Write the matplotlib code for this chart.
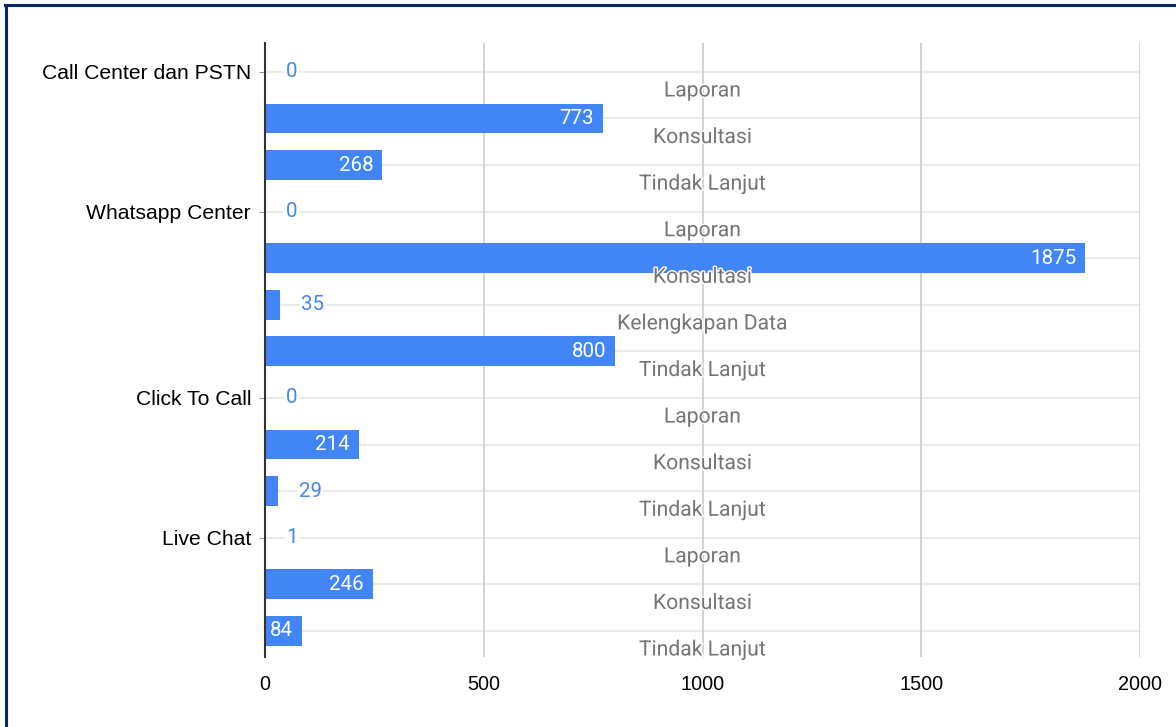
import matplotlib.pyplot as plt
import matplotlib.patheffects as pe
from matplotlib.lines import Line2D

# data
kanal = ["Call Center dan PSTN", "Whatsapp Center", "Click To Call", "Live Chat"]
jumlah_per_kanal = [3, 4, 3, 3]
jenis = ["Laporan", "Konsultasi", "Tindak Lanjut",
         "Laporan", "Konsultasi", "Kelengkapan Data", "Tindak Lanjut",
         "Laporan", "Konsultasi", "Tindak Lanjut",
         "Laporan", "Konsultasi", "Tindak Lanjut"]
nilai = [0, 773, 268, 0, 1875, 35, 800, 0, 214, 29, 1, 246, 84]
xticks = [0, 500, 1000, 1500, 2000]

biru = "#4285f4"

fig = plt.figure(figsize=(11.76, 7.27), dpi=100)
ax = fig.add_axes([265/1176, 1 - 657/727, 875/1176, (657 - 43)/727])

pos = list(range(len(nilai)))

# garis grid
for p in pos:
    ax.axhline(p, color="#ebebeb", lw=1.5, zorder=0)
for x in xticks[1:]:
    ax.axvline(x, color="#cccccc", lw=1.2, zorder=0)

ax.barh(pos, nilai, height=0.64, color=biru, zorder=2)

# label nilai
for p, v in zip(pos, nilai):
    if v >= 80:
        ax.annotate(str(v), (v, p), xytext=(-6.5, 0), textcoords="offset points",
                    ha="right", va="center", color="white", fontsize=14.8,
                    family="Roboto", zorder=4)
    else:
        ax.annotate(str(v), (v, p), xytext=(15, 0), textcoords="offset points",
                    ha="left", va="center", color=biru, fontsize=14.8,
                    family="Roboto", zorder=4,
                    bbox=dict(facecolor="white", edgecolor="none", pad=1))

# label jenis di tengah
for p, t in zip(pos, jenis):
    ax.text(1000, p + 0.41, t, ha="center", va="center", color="#757575",
            fontsize=15.2, family="Roboto", zorder=5,
            path_effects=[pe.withStroke(linewidth=2, foreground="white")])

# label kanal
awal = []
s = 0
for n in jumlah_per_kanal:
    awal.append(s)
    s += n
ax.set_yticks(awal)
ax.set_yticklabels(kanal, family="Liberation Sans", fontsize=15.2)
ax.tick_params(axis="y", length=4, color="#999999", pad=6)

ax.set_xticks(xticks)
ax.set_xticklabels([str(x) for x in xticks], family="Liberation Sans", fontsize=14.3)
ax.tick_params(axis="x", length=0, pad=13)

ax.set_xlim(0, 2000)
ax.set_ylim(12.56, -0.62)

for sp in ["top", "right", "bottom"]:
    ax.spines[sp].set_visible(False)
ax.spines["left"].set_color("#333333")
ax.spines["left"].set_linewidth(1.5)
ax.spines["left"].set_zorder(3)

# bingkai
fig.add_artist(Line2D([5/1176, 1], [1 - 5/727, 1 - 5/727], color="#0b2566", lw=2.2,
                      transform=fig.transFigure))
fig.add_artist(Line2D([5.5/1176, 5.5/1176], [0, 1 - 5/727], color="#0b2566", lw=2.2,
                      transform=fig.transFigure))

fig.savefig("out.png", dpi=100)
